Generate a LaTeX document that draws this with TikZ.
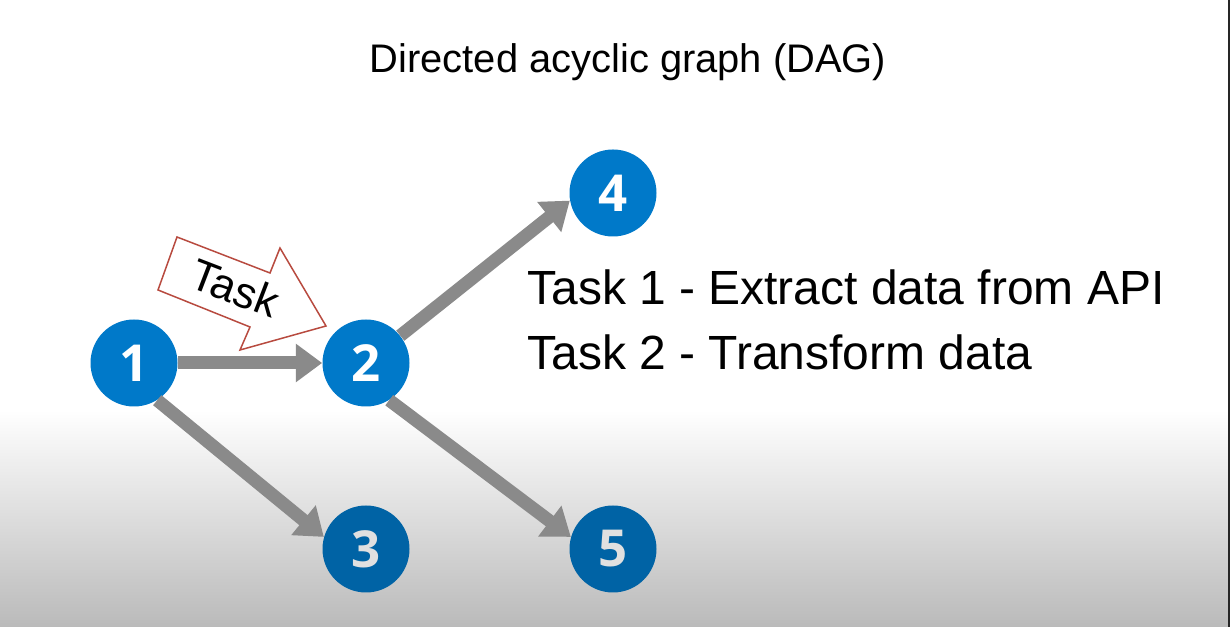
\documentclass[tikz,border=0pt]{standalone}
\usepackage{fontspec}
\setmainfont{Liberation Sans}
\newfontfamily\numfont{Open Sans}
\usepackage{tikz}
\usetikzlibrary{arrows.meta}
\definecolor{dagblue}{RGB}{0,121,201}
\definecolor{daglow}{RGB}{0,99,165}
\definecolor{arrowgray}{RGB}{138,138,138}
\definecolor{taskred}{RGB}{184,74,63}

\begin{document}
\begin{tikzpicture}[
  dagnode/.style={circle,fill=dagblue,text=white,minimum size=1.74cm,inner sep=0pt,
    font=\numfont\bfseries\fontsize{29}{30}\selectfont},
  flow/.style={draw=arrowgray,line width=7.4pt,-{Triangle[length=15pt,width=21pt]}}]
\useasboundingbox (0,0) rectangle (24.6,12.54);
\fill[white] (0,0) rectangle (24.6,12.54);
\shade[top color=white,bottom color=black!27] (0,0) rectangle (24.6,4.34);
\fill[black!85] (24.55,0) rectangle (24.6,12.54);
\node[anchor=base,font=\fontsize{22.7}{27}\selectfont] (title) at (12.56,11.08) {Directed acyclic graph (DAG)};
\node[dagnode] (n1) at (2.68,5.28) {1};
\node[dagnode] (n2) at (7.32,5.28) {2};
\node[dagnode,fill=daglow,text=black!12] (n3) at (7.32,1.56) {3};
\node[dagnode] (n4) at (12.26,8.68) {4};
\node[dagnode,fill=daglow,text=black!12] (n5) at (12.26,1.56) {5};
\draw[flow] (n1) -- (n2);
\draw[flow] (n1.-58) -- (n3.164);
\draw[flow] (n2) -- (n4.190);
\draw[flow] (n2.-58) -- (n5.164);
\draw[taskred,fill=white,line width=0.85pt] (3.54,7.80) -- (5.40,7.08) -- (5.60,7.58) -- (6.52,6.02)
  -- (4.80,5.54) -- (5.00,6.00) -- (3.16,6.74) -- cycle;
\node[rotate=-21,inner sep=0pt,font=\fontsize{25}{28}\selectfont] (tasklbl) at (4.70,6.78) {Task};
\node[anchor=base west,inner sep=0pt,font=\fontsize{27.3}{32}\selectfont] (task1) at (10.54,6.44) {Task 1 - Extract data from API};
\node[anchor=base west,inner sep=0pt,font=\fontsize{27.3}{32}\selectfont] (task2) at (10.54,5.14) {Task 2 - Transform data};
\end{tikzpicture}
\end{document}
